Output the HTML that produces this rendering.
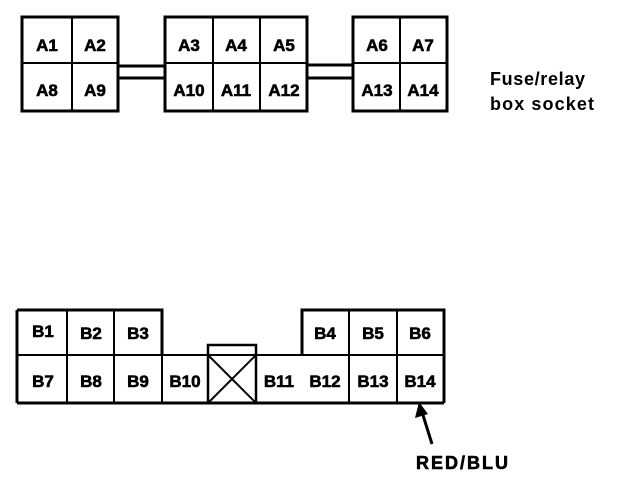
<!DOCTYPE html>
<html><head><meta charset="utf-8"><style>
html,body{margin:0;padding:0;background:#fff;}
svg{display:block;}
text{font-family:"Liberation Sans",sans-serif;font-weight:bold;fill:#000;}
</style></head><body>
<svg width="624" height="480" viewBox="0 0 624 480" xmlns="http://www.w3.org/2000/svg">
<g stroke="#000" fill="none">
  <rect x="22" y="17" width="96" height="94" stroke-width="3"/>
  <line x1="72" y1="17" x2="72" y2="111" stroke-width="2"/>
  <line x1="22" y1="63" x2="118" y2="63" stroke-width="2"/>
  <rect x="165" y="17" width="142" height="94" stroke-width="3"/>
  <line x1="213" y1="17" x2="213" y2="111" stroke-width="2"/>
  <line x1="260" y1="17" x2="260" y2="111" stroke-width="2"/>
  <line x1="165" y1="63" x2="307" y2="63" stroke-width="2"/>
  <rect x="353" y="17" width="94" height="94" stroke-width="3"/>
  <line x1="400" y1="17" x2="400" y2="111" stroke-width="2"/>
  <line x1="353" y1="63" x2="447" y2="63" stroke-width="2"/>
  <line x1="118" y1="66" x2="165" y2="66" stroke-width="3"/>
  <line x1="118" y1="78" x2="165" y2="78" stroke-width="3"/>
  <line x1="307" y1="65" x2="353" y2="65" stroke-width="3"/>
  <line x1="307" y1="78" x2="353" y2="78" stroke-width="3"/>

  <polyline points="17,310 162,310 162,355" stroke-width="3"/>
  <line x1="17" y1="310" x2="17" y2="403" stroke-width="3"/>
  <polyline points="302,355 302,310 444,310 444,403" stroke-width="3"/>
  <line x1="17" y1="403" x2="444" y2="403" stroke-width="3"/>
  <line x1="17" y1="355" x2="444" y2="355" stroke-width="2"/>
  <line x1="67" y1="310" x2="67" y2="403" stroke-width="2"/>
  <line x1="114" y1="310" x2="114" y2="403" stroke-width="2"/>
  <line x1="162" y1="355" x2="162" y2="403" stroke-width="2"/>
  <line x1="349" y1="310" x2="349" y2="403" stroke-width="2"/>
  <line x1="397" y1="310" x2="397" y2="403" stroke-width="2"/>
  <rect x="208" y="345" width="48" height="58" stroke-width="2.5"/>
  <line x1="208" y1="355" x2="256" y2="403" stroke-width="2"/>
  <line x1="256" y1="355" x2="208" y2="403" stroke-width="2"/>
  <line x1="432" y1="444" x2="422" y2="412" stroke-width="3"/>
</g>
<polygon points="419,402 415,418 428,414" fill="#000"/>

<g font-size="17" text-anchor="middle" stroke="#000" stroke-width="0.6">
  <text x="47" y="51">A1</text><text x="95" y="51">A2</text>
  <text x="47" y="96">A8</text><text x="95" y="96">A9</text>
  <text x="189" y="51">A3</text><text x="236" y="51">A4</text><text x="284" y="51">A5</text>
  <text x="189" y="96">A10</text><text x="236" y="96">A11</text><text x="284" y="96">A12</text>
  <text x="377" y="51">A6</text><text x="423" y="51">A7</text>
  <text x="377" y="96">A13</text><text x="423" y="96">A14</text>

  <text x="43" y="337">B1</text><text x="91" y="339">B2</text><text x="138" y="339">B3</text>
  <text x="325" y="339">B4</text><text x="373" y="339">B5</text><text x="420" y="339">B6</text>
  <text x="43" y="387">B7</text><text x="91" y="387">B8</text><text x="138" y="387">B9</text>
  <text x="185" y="387">B10</text><text x="279" y="387">B11</text>
  <text x="325" y="387">B12</text><text x="373" y="387">B13</text><text x="420" y="387">B14</text>
</g>
<text x="490" y="85" font-size="18" textLength="95">Fuse/relay</text>
<text x="490" y="110" font-size="18" textLength="104">box socket</text>
<text x="416" y="469" font-size="18" textLength="92" stroke="#000" stroke-width="0.6">RED/BLU</text>
</svg>
</body></html>
